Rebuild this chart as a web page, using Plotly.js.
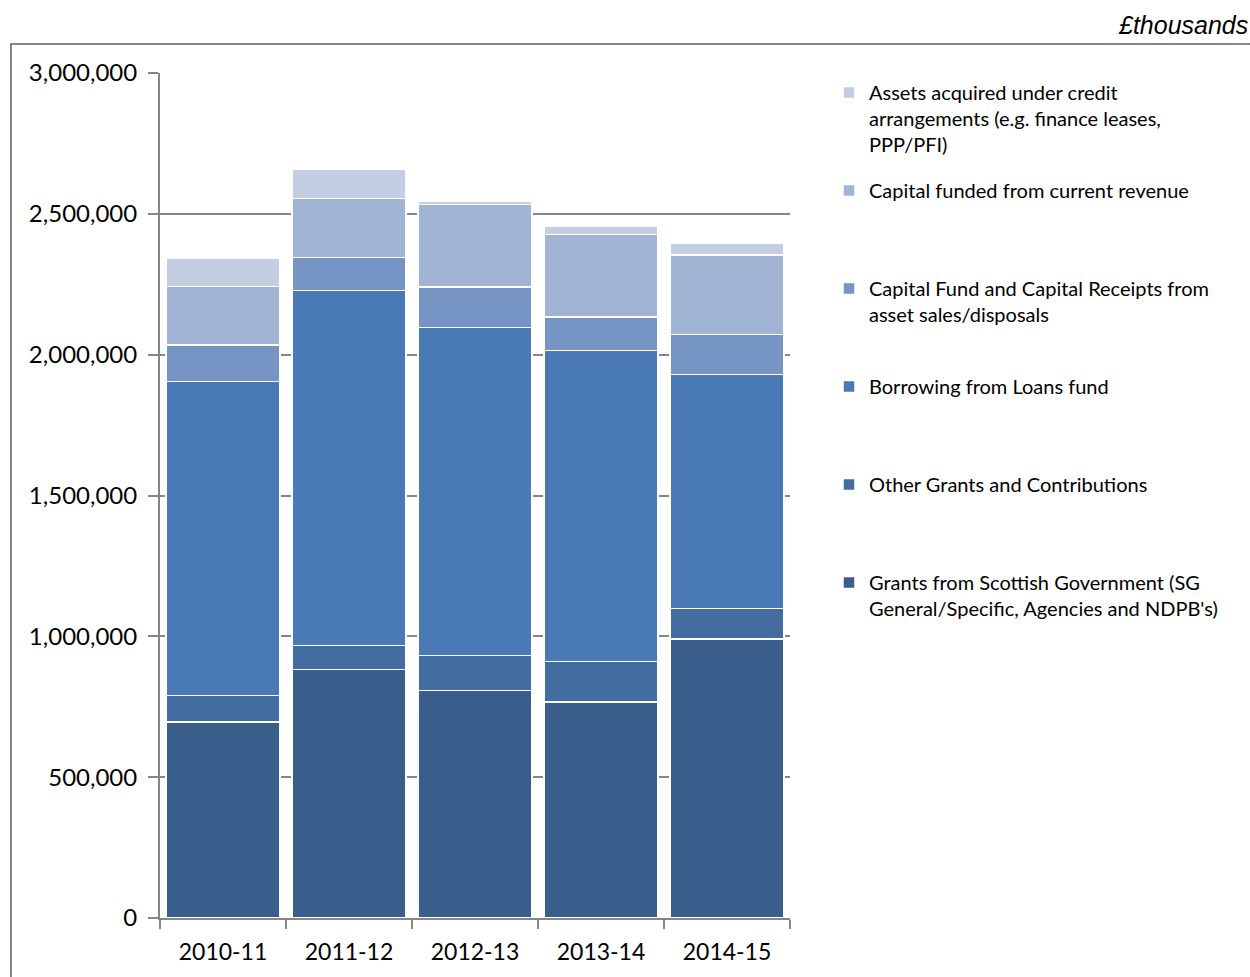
<!DOCTYPE html>
<html>
<head>
<meta charset="utf-8">
<script src="https://cdn.plot.ly/plotly-3.0.1.min.js"></script>
<style>html,body{margin:0;padding:0;background:#fff;}#chart{width:1250px;height:977px;}</style>
</head>
<body>
<div id="chart"></div>
<script>
var years = ["2010-11", "2011-12", "2012-13", "2013-14", "2014-15"];

var grantsSG      = [696000, 881500, 808400, 766900, 990500];
var otherGrants   = [94700, 85200, 124200, 143000, 109000];
var borrowing     = [1114800, 1261800, 1163100, 1105600, 829400];
var capitalFund   = [128900, 117200, 144500, 118200, 143400];
var capitalRevenue= [208400, 208000, 293600, 293600, 281500];
var assetsCredit  = [100500, 103900, 10700, 28400, 42700];

var seriesNames = [
  "Grants from Scottish Government (SG<br>General/Specific, Agencies and NDPB's)",
  "Other Grants and Contributions",
  "Borrowing from Loans fund",
  "Capital Fund and Capital Receipts from<br>asset sales/disposals",
  "Capital funded from current revenue",
  "Assets acquired under credit<br>arrangements (e.g. finance leases,<br>PPP/PFI)"
];
var seriesValues = [grantsSG, otherGrants, borrowing, capitalFund, capitalRevenue, assetsCredit];
var seriesColors = ["#3a5e8b", "#436da0", "#4a7ab5", "#7593c3", "#a2b4d4", "#c3cee3"];
var lineCounts = [2, 1, 1, 2, 1, 3];

var traces = seriesValues.map(function(vals, i){
  var name = seriesNames[i];
  for (var k = lineCounts[i]; k < 3; k++) name += "<br>&nbsp;";
  return {
    type: "bar",
    x: years,
    y: vals,
    name: name,
    legendgroup: "g" + (6 - i),
    legendrank: 1000 - i,
    marker: {color: seriesColors[i], line: {color: "#ffffff", width: 1.5}},
    hoverinfo: "x+y"
  };
});

var PL = 160, PR = 790, PT = 73, PB = 918;
function px2x(p){ return (p - PL) / (PR - PL); }
function px2y(p){ return (PB - p) / (PB - PT); }

var layout = {
  width: 1250, height: 977,
  margin: {l: PL, r: 1250 - PR, t: PT, b: 977 - PB, pad: 0},
  barmode: "stack",
  bargap: 0.095,
  paper_bgcolor: "#ffffff",
  plot_bgcolor: "#ffffff",
  font: {family: "Lato, 'Open Sans', sans-serif", color: "#000000"},
  showlegend: true,
  legend: {
    x: px2x(829), y: 1, xanchor: "left", yanchor: "top",
    traceorder: "grouped",
    valign: "top",
    tracegroupgap: 17,
    font: {size: 20, family: "Lato, 'Open Sans', sans-serif", color: "#000"},
    bgcolor: "rgba(0,0,0,0)"
  },
  xaxis: {
    type: "category",
    showgrid: false,
    showline: true, linecolor: "#868686", linewidth: 2,
    ticks: "outside", tickson: "boundaries", ticklen: 9, tickwidth: 2, tickcolor: "#868686",
    ticklabelstandoff: 12,
    tickfont: {size: 23, family: "Lato, 'Open Sans', sans-serif", color: "#000"},
    fixedrange: true
  },
  yaxis: {
    range: [0, 3000000],
    dtick: 500000,
    tickformat: ",d",
    showgrid: true, gridcolor: "#868686", gridwidth: 2,
    showline: true, linecolor: "#868686", linewidth: 2,
    ticks: "outside", ticklen: 10, tickwidth: 2, tickcolor: "#868686",
    ticklabelstandoff: 6,
    tickfont: {size: 24, family: "Lato, 'Open Sans', sans-serif", color: "#000"},
    zeroline: false,
    fixedrange: true
  },
  shapes: [{
    type: "rect", xref: "paper", yref: "paper",
    x0: px2x(11), x1: px2x(1270), y0: px2y(1000), y1: px2y(44),
    line: {color: "#868686", width: 2}, fillcolor: "rgba(0,0,0,0)", layer: "below"
  }],
  annotations: [{
    xref: "paper", yref: "paper",
    x: px2x(1116), y: px2y(25), xanchor: "left", yanchor: "middle",
    text: "<i>£thousands</i>", showarrow: false,
    font: {size: 25, family: "'Liberation Sans', Arial, sans-serif", color: "#000"}
  }]
};

Plotly.newPlot("chart", traces, layout, {displayModeBar: false, staticPlot: true});
</script>
</body>
</html>
